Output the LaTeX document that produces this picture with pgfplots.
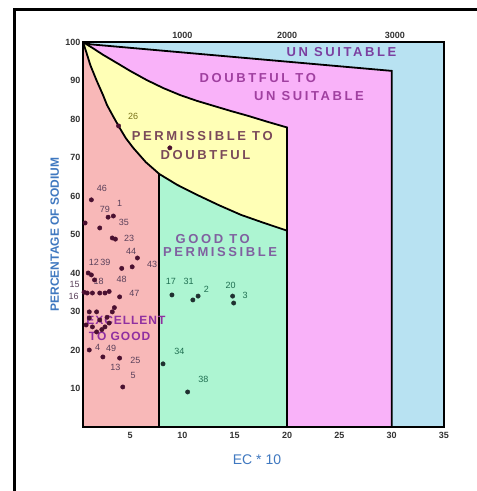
\documentclass[border=0pt]{standalone}
\usepackage{fontspec}
\setmainfont{Liberation Sans}
\newfontfamily\spaced[LetterSpace=20]{Liberation Sans}
\newfontfamily\spacedb[LetterSpace=8]{Liberation Sans}
\usepackage{pgfplots}
\pgfplotsset{compat=1.18}
\definecolor{cblue}{HTML}{B8E2F2}
\definecolor{cmag}{HTML}{F9B2F9}
\definecolor{cyel}{HTML}{FFFFB6}
\definecolor{cgrn}{HTML}{ADF5D2}
\definecolor{cpink}{HTML}{F8B8B8}
\definecolor{cpt}{HTML}{4A1030}
\definecolor{cptg}{HTML}{1F3030}
\definecolor{clab}{HTML}{5A405A}
\definecolor{clabg}{HTML}{1E6E50}
\definecolor{cax}{HTML}{3F78C0}
\definecolor{rl1}{HTML}{7B3FA0}
\definecolor{rl2}{HTML}{A040A0}
\definecolor{rl3}{HTML}{7A4A5A}
\definecolor{rl4}{HTML}{8060A0}
\definecolor{rl5}{HTML}{9030A0}
\begin{document}
\begin{tikzpicture}[x=1pt,y=1pt]
\useasboundingbox (0,0) rectangle (477,491);
\fill[white] (0,0) rectangle (477,491);
\draw[line width=3pt] (14,0) -- (14,481) -- (477,481);
\begin{axis}[
  at={(83pt,64pt)}, anchor=south west,
  scale only axis, width=361pt, height=385pt,
  xmin=0.5, xmax=35, ymin=0, ymax=100,
  clip=false, axis on top,
  axis line style={line width=1.8pt},
  axis background/.style={fill=cblue},
  major tick length=0pt,
  xtick={5,10,...,35}, ytick={10,20,...,100},
  /pgf/number format/assume math mode=true,
  tick label style={font=\fontsize{9}{10}\selectfont\bfseries, color=black!80},
  yticklabel style={xshift=1pt},
  xticklabel style={yshift=-2pt},
  xlabel={EC * 10},
  xlabel style={at={(axis description cs:0.482,-0.086)}, anchor=center, font=\fontsize{14}{16}\selectfont, color=cax},
  ylabel={PERCENTAGE OF SODIUM},
  ylabel style={at={(axis description cs:-0.078,0.5)}, anchor=center, font=\fontsize{12}{14}\selectfont\bfseries, color=cax},
]
% magenta region
\addplot[fill=cmag, draw=none] coordinates {(0.5,0) (0.5,100) (1.2,99.4) (30,92.5) (30,0)} -- cycle;
% yellow region
\addplot[fill=cyel, draw=none] coordinates {(0.5,0) (0.5,100) (1.5,98.3) (2.4,96.7) (3.4,95.1) (5,92.5) (6.6,90.1) (8.2,88) (9.8,86.2) (11.4,84.7) (13,83.4) (14.6,82.1) (16.3,80.8) (18.1,79.3) (20,77.8) (20,0)} -- cycle;
% pink region
\addplot[fill=cpink, draw=none] coordinates {(0.5,0) (0.5,100) (0.8,97.5) (1.2,94) (1.8,90) (2.4,86.3) (2.8,83.6) (3.4,80.6) (4.0,77.7) (4.6,75) (5.3,72.5) (6.5,68.8) (7.8,65.7) (7.8,0)} -- cycle;
% green region
\addplot[fill=cgrn, draw=none] coordinates {(7.8,0) (7.8,65.7) (9.5,62.9) (11.4,60.3) (13.5,57.6) (15.6,55.1) (17.8,53) (20,51) (20,0)} -- cycle;
% boundaries
\addplot[black, line width=1.8pt] coordinates {(0.5,100) (1.2,99.4) (30,92.5) (30,0)};
\addplot[black, line width=1.8pt] coordinates {(0.5,100) (1.5,98.3) (2.4,96.7) (3.4,95.1) (5,92.5) (6.6,90.1) (8.2,88) (9.8,86.2) (11.4,84.7) (13,83.4) (14.6,82.1) (16.3,80.8) (18.1,79.3) (20,77.8) (20,0)};
\addplot[black, line width=1.8pt] coordinates {(0.5,100) (0.8,97.5) (1.2,94) (1.8,90) (2.4,86.3) (2.8,83.6) (3.4,80.6) (4.0,77.7) (4.6,75) (5.3,72.5) (6.5,68.8) (7.8,65.7) (9.5,62.9) (11.4,60.3) (13.5,57.6) (15.6,55.1) (17.8,53) (20,51)};
\addplot[black, line width=1.8pt] coordinates {(7.8,65.7) (7.8,0)};
% region labels
\node[font=\spaced\fontsize{13}{14}\selectfont\bfseries, color=rl1] at (axis cs:25.2,97.4) {UN SUITABLE};
\node[font=\spaced\fontsize{13}{14}\selectfont\bfseries, color=rl2] at (axis cs:17.2,90.6) {DOUBTFUL TO};
\node[font=\spaced\fontsize{13}{14}\selectfont\bfseries, color=rl2] at (axis cs:22.1,86.0) {UN SUITABLE};
\node[font=\spaced\fontsize{13}{14}\selectfont\bfseries, color=rl3] at (axis cs:11.9,75.6) {PERMISSIBLE TO};
\node[font=\spaced\fontsize{13}{14}\selectfont\bfseries, color=rl3] at (axis cs:12.2,70.6) {DOUBTFUL};
\node[font=\spaced\fontsize{13}{14}\selectfont\bfseries, color=rl4] at (axis cs:12.9,48.8) {GOOD TO};
\node[font=\spaced\fontsize{13}{14}\selectfont\bfseries, color=rl4] at (axis cs:13.6,45.5) {PERMISSIBLE};
\node[font=\spacedb\fontsize{12}{13}\selectfont\bfseries, color=rl5, inner sep=0pt] at (axis cs:4.6,27.8) {EXCELLENT};
\node[font=\spacedb\fontsize{12}{13}\selectfont\bfseries, color=rl5, inner sep=0pt] at (axis cs:4.0,23.6) {TO GOOD};
% top scale
\node[font=\fontsize{9}{10}\selectfont\bfseries, color=black!80, anchor=south] at (axis cs:10,100) {1000};
\node[font=\fontsize{9}{10}\selectfont\bfseries, color=black!80, anchor=south] at (axis cs:20,100) {2000};
\node[font=\fontsize{9}{10}\selectfont\bfseries, color=black!80, anchor=south] at (axis cs:30.3,100) {3000};
% points in excellent to good / permissible to doubtful
\addplot[only marks, mark=*, mark size=2.2pt, color=cpt] coordinates {
(1.3,59.0) (2.9,54.5) (3.4,54.8) (0.7,53.0) (2.1,51.7) (3.3,49.1) (3.6,48.8)
(5.7,43.9) (5.2,41.6) (4.2,41.2) (1.0,40.0) (1.3,39.5) (1.6,38.2)
(0.9,34.8) (1.4,34.8) (2.1,34.8) (2.6,34.8) (3.0,35.2) (4.0,33.8) (0.6,35.0)
(1.1,29.9) (1.8,29.9) (3.3,29.9) (3.5,31.0) (1.1,28.3) (2.1,27.8) (2.8,28.5)
(1.4,26.0) (2.6,26.0) (3.0,27.0) (1.8,24.7) (0.8,26.5) (2.3,25.3)
(1.1,20.0) (2.4,18.2) (4.0,17.9) (4.3,10.4)
(3.9,78.2) (8.8,72.5)};
% points in good to permissible
\addplot[only marks, mark=*, mark size=2.2pt, color=cptg] coordinates {
(9.0,34.3) (11.0,33.0) (11.5,34.0) (14.8,34.0) (14.9,32.2) (8.15,16.4) (10.5,9.1)};
% point labels
\begin{scope}[every node/.style={font=\fontsize{9}{10}\selectfont, color=clab, inner sep=1pt}]
\node at (axis cs:2.3,62) {46};
\node at (axis cs:4.0,58.2) {1};
\node at (axis cs:2.6,56.6) {79};
\node at (axis cs:4.4,53.2) {35};
\node at (axis cs:4.9,49.1) {23};
\node at (axis cs:2.1,42.8) {12\,39};
\node at (axis cs:5.1,45.6) {44};
\node at (axis cs:7.1,42.2) {43};
\node at (axis cs:2.0,37.8) {18};
\node at (axis cs:4.2,38.3) {48};
\node at (axis cs:-0.3,37.0) {15};
\node at (axis cs:-0.4,33.8) {16};
\node at (axis cs:5.4,34.6) {47};
\node at (axis cs:1.9,20.6) {4};
\node at (axis cs:3.2,20.4) {49};
\node at (axis cs:5.5,17.2) {25};
\node at (axis cs:3.6,15.6) {13};
\node at (axis cs:5.3,13.3) {5};
\end{scope}
\begin{scope}[every node/.style={font=\fontsize{9}{10}\selectfont, color=clabg, inner sep=1pt}]
\node[color=olive!80!black] at (axis cs:5.3,80.8) {26};
\node at (axis cs:8.9,37.8) {17};
\node at (axis cs:10.6,37.8) {31};
\node at (axis cs:12.3,35.8) {2};
\node at (axis cs:14.6,36.8) {20};
\node at (axis cs:16.0,34.2) {3};
\node at (axis cs:9.7,19.6) {34};
\node at (axis cs:12.0,12.4) {38};
\end{scope}
\end{axis}
\end{tikzpicture}
\end{document}
